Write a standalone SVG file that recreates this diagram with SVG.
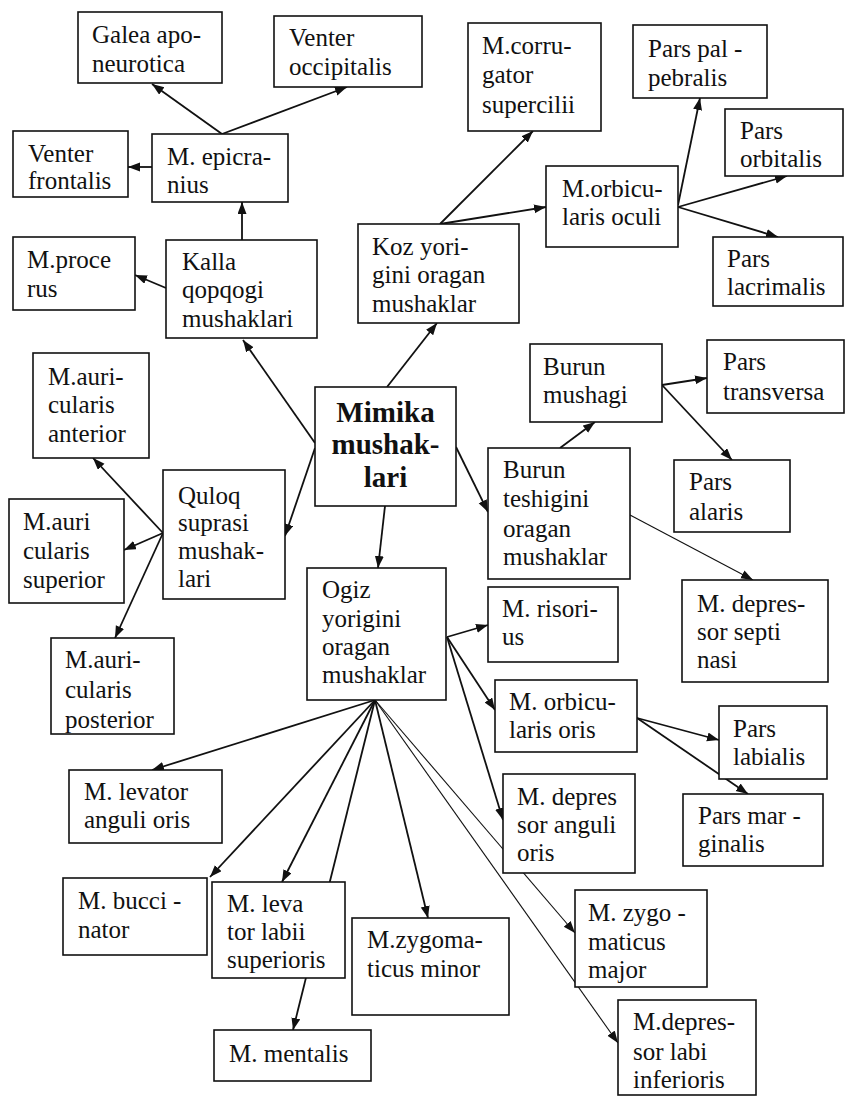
<svg xmlns="http://www.w3.org/2000/svg" width="845" height="1096" viewBox="0 0 845 1096">
<defs>
<marker id="ah" markerUnits="userSpaceOnUse" markerWidth="13" markerHeight="10" refX="12" refY="4.5" orient="auto">
<path d="M0,0 L12,4.5 L0,9 z" fill="#111"/>
</marker>
<style>
.box{fill:#fff;stroke:#111;stroke-width:1.6}
.t{font-family:"Liberation Serif","Times New Roman",serif;font-size:25px;fill:#111}
.b{font-family:"Liberation Serif","Times New Roman",serif;font-size:29px;font-weight:bold;fill:#111;text-anchor:middle}
.c{fill:none;stroke:#111;stroke-width:1.8;marker-end:url(#ah)}
.thin{stroke-width:1.1}
</style>
</defs>
<rect width="845" height="1096" fill="#fff"/>
<g id="connectors">
<line class="c" x1="222" y1="134" x2="152" y2="84"/>
<line class="c" x1="222" y1="134" x2="347" y2="87"/>
<line class="c" x1="152" y1="167" x2="128" y2="167"/>
<line class="c" x1="242" y1="240" x2="242" y2="202"/>
<line class="c" x1="166" y1="288" x2="135" y2="275"/>
<line class="c" x1="315" y1="443" x2="243" y2="340"/>
<line class="c" x1="387" y1="387" x2="437" y2="323"/>
<line class="c" x1="315" y1="448" x2="285" y2="536"/>
<line class="c" x1="385" y1="506" x2="378" y2="568"/>
<line class="c" x1="456" y1="447" x2="488" y2="512"/>
<line class="c" x1="440" y1="224" x2="533" y2="131"/>
<line class="c" x1="440" y1="224" x2="546" y2="207"/>
<line class="c" x1="678" y1="205" x2="700" y2="98"/>
<line class="c" x1="678" y1="207" x2="787" y2="176"/>
<line class="c" x1="678" y1="207" x2="778" y2="237"/>
<line class="c" x1="560" y1="448" x2="595" y2="422"/>
<line class="c" x1="662" y1="385" x2="707" y2="378"/>
<line class="c" x1="662" y1="385" x2="732" y2="460"/>
<line class="c thin" x1="630" y1="515" x2="753" y2="580"/>
<line class="c" x1="163" y1="533" x2="93" y2="458"/>
<line class="c" x1="163" y1="533" x2="124" y2="550"/>
<line class="c" x1="163" y1="533" x2="115" y2="638"/>
<line class="c" x1="447" y1="637" x2="488" y2="625"/>
<line class="c" x1="447" y1="637" x2="495" y2="710"/>
<line class="c" x1="447" y1="637" x2="503" y2="820"/>
<line class="c" x1="637" y1="718" x2="719" y2="740"/>
<line class="c" x1="637" y1="718" x2="748" y2="794"/>
<line class="c" x1="375" y1="700" x2="152" y2="770"/>
<line class="c" x1="375" y1="700" x2="210" y2="877"/>
<line class="c" x1="375" y1="700" x2="282" y2="882"/>
<line class="c" x1="375" y1="700" x2="293" y2="1030"/>
<line class="c" x1="375" y1="700" x2="428" y2="918"/>
<line class="c thin" x1="375" y1="700" x2="575" y2="933"/>
<line class="c thin" x1="375" y1="700" x2="618" y2="1043"/>
</g>
<g id="galea"><rect class="box" x="78" y="12" width="144" height="71"/><text class="t" x="92" y="43">Galea apo-</text><text class="t" x="92" y="72">neurotica</text></g>
<g id="venter-occipitalis"><rect class="box" x="274" y="16" width="148" height="71"/><text class="t" x="289" y="46">Venter</text><text class="t" x="289" y="75">occipitalis</text></g>
<g id="venter-frontalis"><rect class="box" x="13" y="131" width="115" height="66"/><text class="t" x="28" y="162">Venter</text><text class="t" x="28" y="189">frontalis</text></g>
<g id="epicranius"><rect class="box" x="152" y="134" width="136" height="68"/><text class="t" x="167" y="165">M. epicra-</text><text class="t" x="167" y="193">nius</text></g>
<g id="procerus"><rect class="box" x="13" y="237" width="122" height="73"/><text class="t" x="27" y="268">M.proce</text><text class="t" x="27" y="297">rus</text></g>
<g id="kalla"><rect class="box" x="166" y="240" width="151" height="98"/><text class="t" x="182" y="270">Kalla</text><text class="t" x="182" y="298">qopqogi</text><text class="t" x="182" y="327">mushaklari</text></g>
<g id="koz"><rect class="box" x="358" y="224" width="161" height="99"/><text class="t" x="372" y="255">Koz yori-</text><text class="t" x="372" y="283">gini oragan</text><text class="t" x="372" y="312">mushaklar</text></g>
<g id="corrugator"><rect class="box" x="468" y="23" width="133" height="108"/><text class="t" x="482" y="54">M.corru-</text><text class="t" x="482" y="83">gator</text><text class="t" x="482" y="113">supercilii</text></g>
<g id="palpebralis"><rect class="box" x="633" y="25" width="134" height="73"/><text class="t" x="648" y="57">Pars pal -</text><text class="t" x="648" y="86">pebralis</text></g>
<g id="orbitalis"><rect class="box" x="725" y="109" width="118" height="67"/><text class="t" x="740" y="139">Pars</text><text class="t" x="740" y="167">orbitalis</text></g>
<g id="orbicularis-oculi"><rect class="box" x="546" y="166" width="132" height="81"/><text class="t" x="562" y="197">M.orbicu-</text><text class="t" x="562" y="225">laris oculi</text></g>
<g id="lacrimalis"><rect class="box" x="713" y="237" width="130" height="69"/><text class="t" x="727" y="267">Pars</text><text class="t" x="727" y="295">lacrimalis</text></g>
<g id="auricularis-anterior"><rect class="box" x="33" y="353" width="116" height="105"/><text class="t" x="48" y="385">M.auri-</text><text class="t" x="48" y="413">cularis</text><text class="t" x="48" y="442">anterior</text></g>
<g id="mimika"><rect class="box" x="315" y="387" width="141" height="119"/><text class="b" x="385.5" y="422">Mimika</text><text class="b" x="385.5" y="454">mushak-</text><text class="b" x="385.5" y="487">lari</text></g>
<g id="quloq"><rect class="box" x="163" y="470" width="122" height="129"/><text class="t" x="178" y="504">Quloq</text><text class="t" x="178" y="531">suprasi</text><text class="t" x="178" y="559">mushak-</text><text class="t" x="178" y="587">lari</text></g>
<g id="auricularis-superior"><rect class="box" x="9" y="499" width="115" height="104"/><text class="t" x="23" y="530">M.auri</text><text class="t" x="23" y="559">cularis</text><text class="t" x="23" y="588">superior</text></g>
<g id="auricularis-posterior"><rect class="box" x="51" y="638" width="123" height="96"/><text class="t" x="65" y="668">M.auri-</text><text class="t" x="65" y="698">cularis</text><text class="t" x="65" y="728">posterior</text></g>
<g id="ogiz"><rect class="box" x="307" y="568" width="139" height="132"/><text class="t" x="322" y="598">Ogiz</text><text class="t" x="322" y="627">yorigini</text><text class="t" x="322" y="655">oragan</text><text class="t" x="322" y="683">mushaklar</text></g>
<g id="burun-mushagi"><rect class="box" x="530" y="344" width="132" height="78"/><text class="t" x="543" y="375">Burun</text><text class="t" x="543" y="403">mushagi</text></g>
<g id="transversa"><rect class="box" x="707" y="340" width="137" height="73"/><text class="t" x="723" y="370">Pars</text><text class="t" x="723" y="400">transversa</text></g>
<g id="alaris"><rect class="box" x="674" y="460" width="116" height="72"/><text class="t" x="689" y="490">Pars</text><text class="t" x="689" y="520">alaris</text></g>
<g id="burun-teshigini"><rect class="box" x="488" y="448" width="142" height="131"/><text class="t" x="503" y="478">Burun</text><text class="t" x="503" y="507">teshigini</text><text class="t" x="503" y="537">oragan</text><text class="t" x="503" y="565">mushaklar</text></g>
<g id="depressor-septi"><rect class="box" x="682" y="580" width="146" height="102"/><text class="t" x="697" y="612">M. depres-</text><text class="t" x="697" y="640">sor septi</text><text class="t" x="697" y="668">nasi</text></g>
<g id="risorius"><rect class="box" x="488" y="587" width="130" height="75"/><text class="t" x="502" y="617">M. risori-</text><text class="t" x="502" y="645">us</text></g>
<g id="orbicularis-oris"><rect class="box" x="495" y="680" width="142" height="72"/><text class="t" x="509" y="710">M. orbicu-</text><text class="t" x="509" y="738">laris oris</text></g>
<g id="labialis"><rect class="box" x="719" y="706" width="108" height="73"/><text class="t" x="733" y="737">Pars</text><text class="t" x="733" y="765">labialis</text></g>
<g id="marginalis"><rect class="box" x="683" y="794" width="140" height="72"/><text class="t" x="698" y="824">Pars mar -</text><text class="t" x="698" y="852">ginalis</text></g>
<g id="depressor-anguli"><rect class="box" x="503" y="774" width="132" height="99"/><text class="t" x="517" y="805">M. depres</text><text class="t" x="517" y="833">sor anguli</text><text class="t" x="517" y="861">oris</text></g>
<g id="zygomaticus-major"><rect class="box" x="575" y="890" width="132" height="97"/><text class="t" x="588" y="921">M. zygo -</text><text class="t" x="588" y="950">maticus</text><text class="t" x="588" y="978">major</text></g>
<g id="depressor-labii"><rect class="box" x="618" y="1000" width="138" height="95"/><text class="t" x="633" y="1030">M.depres-</text><text class="t" x="633" y="1060">sor labi</text><text class="t" x="633" y="1088">inferioris</text></g>
<g id="zygomaticus-minor"><rect class="box" x="352" y="918" width="157" height="97"/><text class="t" x="367" y="948">M.zygoma-</text><text class="t" x="367" y="977">ticus minor</text></g>
<g id="levator-anguli"><rect class="box" x="69" y="770" width="153" height="73"/><text class="t" x="84" y="800">M. levator</text><text class="t" x="84" y="828">anguli oris</text></g>
<g id="buccinator"><rect class="box" x="63" y="878" width="144" height="77"/><text class="t" x="78" y="909">M. bucci -</text><text class="t" x="78" y="938">nator</text></g>
<g id="levator-labii"><rect class="box" x="212" y="882" width="133" height="96"/><text class="t" x="227" y="912">M. leva</text><text class="t" x="227" y="940">tor labii</text><text class="t" x="227" y="968">superioris</text></g>
<g id="mentalis"><rect class="box" x="214" y="1030" width="157" height="51"/><text class="t" x="229" y="1062">M. mentalis</text></g>
</svg>
